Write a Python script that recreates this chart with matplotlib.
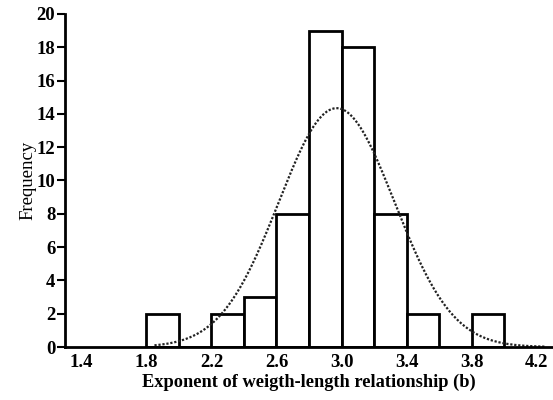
import numpy as np
import matplotlib
matplotlib.use("Agg")
import matplotlib.pyplot as plt

bin_left = [1.8, 2.0, 2.2, 2.4, 2.6, 2.8, 3.0, 3.2, 3.4, 3.6, 3.8]
counts = [2, 0, 2, 3, 8, 19, 18, 8, 2, 0, 2]
bin_width = 0.2
fit_mean = 2.97
fit_sd = 0.356
xticks = [1.4, 1.8, 2.2, 2.6, 3.0, 3.4, 3.8, 4.2]
xticklabels = ["1.4", "1.8", "2.2", "2.6", "3.0", "3.4", "3.8", "4.2"]
yticks = [0, 2, 4, 6, 8, 10, 12, 14, 16, 18, 20]

plt.rcParams['font.family'] = ['Liberation Serif', 'DejaVu Serif']

fig = plt.figure(figsize=(5.53, 4.00), dpi=100)
ax = fig.add_axes([0.1175, 0.1325, 0.8825, 0.8325])

ax.bar(bin_left, counts, width=bin_width, align='edge', facecolor='white',
       edgecolor='black', linewidth=2.0, zorder=2)

n = sum(counts)
xs = np.linspace(1.85, 4.25, 300)
ys = n * bin_width / (fit_sd * np.sqrt(2 * np.pi)) * np.exp(-0.5 * ((xs - fit_mean) / fit_sd) ** 2)
ax.plot(xs, ys, color='#222222', linestyle=(0, (1, 0.8)), linewidth=1.6, zorder=3)

ax.set_xlim(1.3, 4.3)
ax.set_ylim(0, 20)
ax.set_xticks(xticks)
ax.set_xticklabels(xticklabels)
ax.set_yticks(yticks)
for s in ['top', 'right']:
    ax.spines[s].set_visible(False)
for s in ['left', 'bottom']:
    ax.spines[s].set_linewidth(2.0)
    ax.spines[s].set_zorder(4)
ax.tick_params(axis='x', length=0, pad=5, labelsize=13.5)
ax.tick_params(axis='y', length=6, width=1.5, pad=1, labelsize=13.5)
for lbl in ax.get_xticklabels() + ax.get_yticklabels():
    lbl.set_fontweight('bold')

ax.set_xlabel("Exponent of weigth-length relationship (b)", fontsize=13.2, fontweight='semibold', labelpad=2)
ax.set_ylabel("Frequency", fontsize=13.5, labelpad=0)

fig.savefig("out.png", dpi=100)
